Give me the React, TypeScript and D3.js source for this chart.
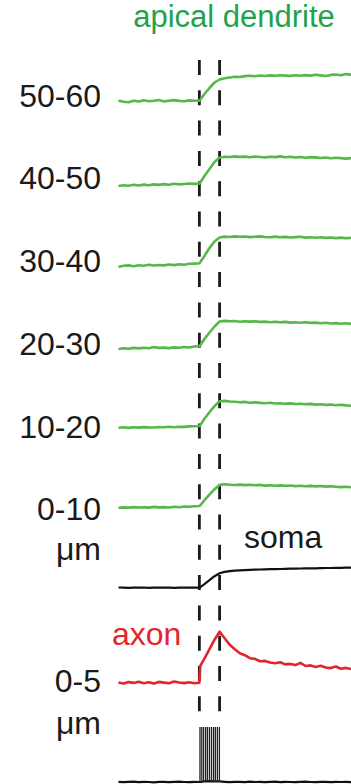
import React from "react";
import * as d3 from "d3";

// Shared time base (ms), 0 = start of the stimulus train, 10 = end
const TIME_MS = [
  -40, -37.5, -35, -32.5, -30, -27.5, -25, -22.5, -20, -17.5, -15, -12.5, -10, -7.5, -5, -2.5,
  0, 0.5,
  2.5, 5, 7.5, 10, 12.5, 15, 17.5, 20, 22.5, 25, 27.5, 30, 32.5, 35, 37.5, 40, 42.5, 45, 47.5,
  50, 52.5, 55, 57.5, 60, 62.5, 65, 67.5, 70, 72.5, 75,
];

const STIM_WINDOW = [0, 10];

// Dendritic recording distances (labels)
const DENDRITE_LABELS = ["50-60", "40-50", "30-40", "20-30", "10-20", "0-10"];

// Amplitudes (a.u., positive = depolarising), one value per TIME_MS sample
const DEND_50_60 = [
  0.5, -0.8, -1.2, 0.3, -0.5, 0.8, -0.3, 0.2, 1.0, -0.4, 0.3, 0.9, 0.1, -0.2, 0.6, 0.3,
  0.2, 1.5,
  7, 13, 18.5, 21.5, 22.8, 23.5, 24.2, 24.0, 24.9, 25.3, 24.8, 25.5, 25.0, 25.6, 25.2, 25.8, 25.4,
  25.1, 25.7, 25.3, 25.9, 25.4, 26.2, 25.6, 25.0, 26.1, 26.5, 25.8, 26.9, 26.4,
];
const DEND_40_50 = [
  -1.0, -0.3, -0.8, 0.2, -0.5, 0.4, -0.2, 0.6, 0.1, 0.9, 0.3, 1.2, 0.6, 1.0, 1.5, 1.1,
  1.3, 2.5,
  9, 16, 23, 27.5, 28.3, 28.0, 28.6, 28.1, 28.4, 27.8, 28.5, 28.0, 27.6, 28.3, 27.9, 28.6, 27.7,
  28.2, 27.5, 28.0, 27.3, 27.9, 27.6, 27.0, 27.5, 26.8, 27.3, 26.9, 26.4, 26.9,
];
const DEND_30_40 = [
  -1.0, 0.2, 0.6, -0.2, 0.8, 0.3, 1.2, 0.5, 1.0, 0.6, 1.5, 0.9, 1.8, 1.3, 2.2, 2.4,
  2.7, 4,
  10, 18, 24.5, 28.5, 29.4, 29.0, 29.6, 29.2, 29.5, 28.9, 29.3, 29.6, 29.0, 28.7, 29.4, 28.8, 29.1,
  28.5, 28.9, 29.2, 28.4, 28.8, 28.3, 28.7, 28.1, 28.5, 27.9, 28.4, 27.8, 28.1,
];
const DEND_20_30 = [
  -0.5, 0.3, -0.3, 0.6, 0.1, 0.8, 0.2, 1.4, 0.6, 0.9, 0.4, 1.1, 0.7, 1.5, 1.0, 2.0,
  2.5, 3.5,
  9.5, 16, 22, 27, 27.6, 27.2, 27.5, 26.8, 27.3, 26.9, 27.1, 26.6, 26.9, 26.3, 26.7, 26.2, 26.6,
  25.9, 26.3, 25.8, 26.2, 25.6, 25.9, 25.3, 25.7, 25.0, 25.4, 24.8, 25.2, 24.6,
];
const DEND_10_20 = [
  0, 0.4, -0.2, 0.5, 0.1, 0.6, 0.3, 0.2, 0.7, 0.4, 0.9, 0.5, 1.0, 0.8, 1.3, 1.5,
  1.7, 2.8,
  9, 15.5, 21.5, 26.5, 26.8, 26.2, 25.9, 25.5, 25.8, 25.0, 25.3, 24.8, 24.5, 24.9, 24.2, 24.5, 23.9,
  24.3, 23.7, 23.9, 23.4, 23.8, 23.1, 23.4, 22.8, 23.2, 22.5, 22.9, 22.3, 22.0,
];
const DEND_0_10 = [
  0, 0.3, 0.1, 0.6, 0.2, 0.4, 0.1, 0.8, 0.3, 0.6, 0.2, 0.9, 0.5, 1.2, 0.9, 1.5,
  1.7, 2.5,
  7.5, 13, 18.5, 22.8, 23.4, 23.0, 22.7, 23.1, 22.6, 22.9, 22.4, 22.8, 22.1, 22.5, 22.0, 22.3, 21.9,
  22.2, 21.6, 22.0, 21.5, 21.8, 21.3, 21.7, 21.1, 21.5, 21.0, 20.6, 20.9, 20.4,
];
const SOMA = [
  0.2, 0, -0.2, 0.1, 0, 0.2, -0.1, 0, 0.1, 0.2, 0, -0.1, 0.1, 0, 0.2, 0.1,
  0, 0.5,
  3.5, 7.5, 11.5, 14.4, 15.8, 16.6, 17.0, 17.4, 17.6, 17.9, 18.0, 18.2, 18.3, 18.5, 18.6, 18.7, 18.9,
  19.0, 19.0, 19.2, 19.3, 19.4, 19.4, 19.6, 19.7, 19.7, 19.8, 19.9, 20.0, 20.0,
];
const AXON = [
  0.3, -0.8, 0.6, -0.2, 1.0, -0.5, 0.4, -0.9, 0.8, 0.1, -0.6, 1.1, 0.2, -0.4, 0.5, -0.6,
  0, 17,
  24, 33.5, 43, 51, 44.5, 38, 33.5, 29.5, 27.5, 24.5, 23.8, 21.5, 21.8, 20.2, 19.5, 20.4, 18.3,
  18.8, 17.6, 19.8, 16.7, 17.3, 15.8, 16.9, 15.2, 14.6, 16.2, 14.0, 14.8, 13.6,
];
// Somatic current-injection / spike train trace
const STIM_BASE = [
  0.2, -0.2, 0.1, 0.3, -0.1, 0.2, 0, -0.3, 0.1, 0.2, -0.2, 0.1, 0.3, 0, -0.1, 0.2,
  0, 0,
  0.6, 0.8, 0.7, 0.6, 0.2, -0.2, 0.1, 0.2, -0.1, 0.3, 0, 0.2, -0.2, 0.1, 0.3, -0.1, 0.2,
  0, -0.2, 0.1, 0.3, 0, -0.1, 0.2, 0.1, -0.2, 0.2, 0, 0.1, -0.1,
];
const SPIKE_TIMES = [0.3, 1.2, 2.1, 3.1, 4.0, 5.0, 6.0, 7.0, 7.9, 8.9, 9.9];
const SPIKE_PEAK = 55;

const DENDRITE_SERIES = [DEND_50_60, DEND_40_50, DEND_30_40, DEND_20_30, DEND_10_20, DEND_0_10];

const W = 351;
const H = 784;
const FONT = "'Liberation Sans', Arial, Helvetica, sans-serif";
const GREEN = "#55b848";
const GREEN_TEXT = "#22a24c";
const RED = "#e2262b";

// Layout (trace baselines in px)
const DEND_ROW_Y = [101, 185, 266, 348.5, 427.7, 507.7];
const SOMA_Y = 587.7;
const AXON_Y = 682.7;
const STIM_Y = 782;

export default function App() {
  const x = d3.scaleLinear().domain([-40, 75]).range([118.5, 351]);
  const amp = d3.scaleLinear().domain([0, 10]).range([0, -10]);

  const lineAt = (base: number) =>
    d3
      .line<number>()
      .x((_, i) => x(TIME_MS[i]))
      .y((v) => base + amp(v))
      .curve(d3.curveLinear);

  const labelY = d3
    .scalePoint<string>()
    .domain(DENDRITE_LABELS)
    .range([106.7, 520.3]);

  const stimLine = lineAt(STIM_Y)(STIM_BASE) || "";

  return (
    <svg
      width={W}
      height={H}
      viewBox={`0 0 ${W} ${H}`}
      style={{ position: "absolute", left: 0, top: 0, background: "#fff" }}
    >
      <rect x={0} y={0} width={W} height={H} fill="#fff" />
      {/* stimulus window */}
      {STIM_WINDOW.map((t) => (
        <line
          key={t}
          x1={x(t)}
          x2={x(t)}
          y1={60}
          y2={712}
          stroke="#1a1a1a"
          strokeWidth={2.8}
          strokeDasharray="15 15.3"
        />
      ))}

      <text
        x={234}
        y={26.5}
        textAnchor="middle"
        fontFamily={FONT}
        fontSize={31}
        fill={GREEN_TEXT}
      >
        apical dendrite
      </text>

      {DENDRITE_SERIES.map((s, k) => (
        <path
          key={k}
          d={lineAt(DEND_ROW_Y[k])(s) || ""}
          fill="none"
          stroke={GREEN}
          strokeWidth={2.6}
          strokeLinejoin="round"
        />
      ))}
      {DENDRITE_LABELS.map((l) => (
        <text
          key={l}
          x={101}
          y={labelY(l)}
          textAnchor="end"
          fontFamily={FONT}
          fontSize={32}
          fill="#1a1a1a"
        >
          {l}
        </text>
      ))}
      <text x={101} y={560} textAnchor="end" fontFamily={FONT} fontSize={32} fill="#1a1a1a">
        μm
      </text>

      <path
        d={lineAt(SOMA_Y)(SOMA) || ""}
        fill="none"
        stroke="#111"
        strokeWidth={2.2}
        strokeLinejoin="round"
      />
      <text x={244} y={548} fontFamily={FONT} fontSize={32} fill="#1a1a1a">
        soma
      </text>

      <path
        d={lineAt(AXON_Y)(AXON) || ""}
        fill="none"
        stroke={RED}
        strokeWidth={2.6}
        strokeLinejoin="round"
      />
      <text x={112} y={645} fontFamily={FONT} fontSize={32} fill={RED}>
        axon
      </text>
      <text x={101} y={692} textAnchor="end" fontFamily={FONT} fontSize={32} fill="#1a1a1a">
        0-5
      </text>
      <text x={101} y={733.5} textAnchor="end" fontFamily={FONT} fontSize={32} fill="#1a1a1a">
        μm
      </text>

      <path d={stimLine} fill="none" stroke="#111" strokeWidth={2.2} />
      {SPIKE_TIMES.map((t, i) => (
        <line
          key={i}
          x1={x(t)}
          x2={x(t)}
          y1={STIM_Y}
          y2={STIM_Y + amp(SPIKE_PEAK)}
          stroke="#222"
          strokeWidth={1.3}
        />
      ))}
    </svg>
  );
}
